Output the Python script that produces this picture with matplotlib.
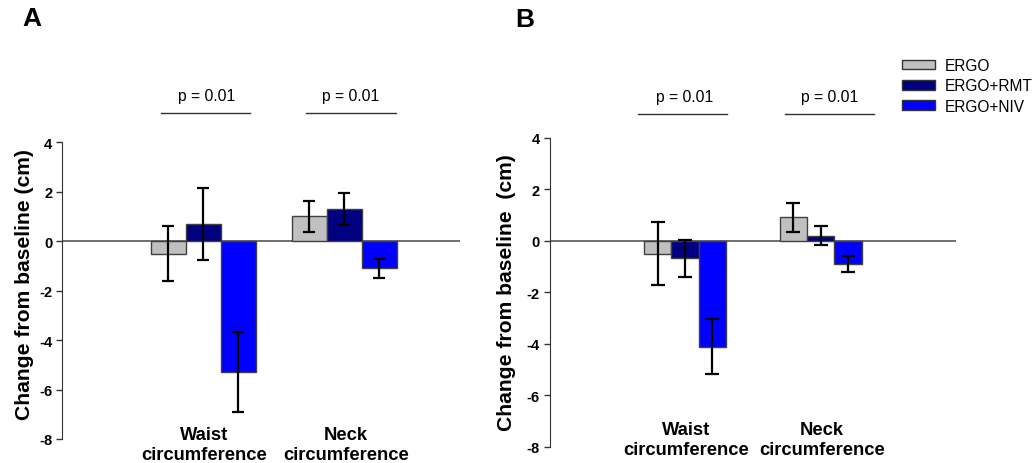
import matplotlib
matplotlib.use("Agg")
import matplotlib.pyplot as plt
from matplotlib.patches import Patch
from matplotlib.transforms import blended_transform_factory
import numpy as np

plt.rcParams['font.family'] = ['Liberation Sans', 'DejaVu Sans']

# data
categories = ["Waist\ncircumference", "Neck\ncircumference"]
groups = ["ERGO", "ERGO+RMT", "ERGO+NIV"]
colors = ["#c0c0c0", "#000080", "#0000ff"]

# panel A
a_means = [[-0.5, 1.0], [0.7, 1.3], [-5.3, -1.1]]
a_errs = [[1.12, 0.61], [1.45, 0.64], [1.62, 0.37]]
# panel B
b_means = [[-0.5, 0.91], [-0.69, 0.2], [-4.11, -0.9]]
b_errs = [[1.21, 0.57], [0.73, 0.36], [1.05, 0.32]]

p_labels = ["p = 0.01", "p = 0.01"]
yticks = [-8, -6, -4, -2, 0, 2, 4]

W, H = 1035, 464
fig = plt.figure(figsize=(W / 100, H / 100), dpi=100)


def fy(px):
    return 1 - px / H


def draw_panel(rect, means, errs, width, xmax, cap, cat_y, p_span, p_text_x, p_line_y, p_text_y):
    ax = fig.add_axes(rect)
    x = np.arange(len(categories))
    for i, (m, e, c) in enumerate(zip(means, errs, colors)):
        ax.bar(x + (i - 1) * width, m, width, color=c, edgecolor="#404040",
               linewidth=1, zorder=2)
        ax.errorbar(x + (i - 1) * width, m, yerr=e, fmt="none", ecolor="black",
                    elinewidth=1.6, capsize=cap, capthick=1.6, zorder=3)
    ax.axhline(0, color="#555555", lw=1.2, zorder=1)
    ax.set_xlim(-1, xmax)
    ax.set_ylim(-8, 4)
    ax.set_yticks(yticks)
    ax.set_yticklabels([str(t) for t in yticks], fontsize=10.5, fontweight="bold")
    ax.set_xticks([])
    for s in ["top", "right", "bottom"]:
        ax.spines[s].set_visible(False)
    ax.spines["left"].set_color("#333333")
    ax.tick_params(axis="y", direction="out", length=4, width=1, color="#333333", pad=3)
    ax.patch.set_alpha(0)

    tr = blended_transform_factory(ax.transData, fig.transFigure)
    for xi, lab in zip(x, categories):
        ax.text(xi + 0.01, cat_y, lab, transform=tr, ha="center", va="top",
                fontsize=13.2, fontweight="bold", linespacing=1.22)
    for (x0, x1), tx, lab in zip(p_span, p_text_x, p_labels):
        ax.plot([x0, x1], [p_line_y, p_line_y], transform=tr, color="#333333",
                lw=1, clip_on=False)
        ax.text(tx, p_text_y, lab, transform=tr, ha="center", va="center", fontsize=11.3)
    return ax


ax_a = draw_panel([62 / W, fy(440), (460 - 62) / W, (440 - 143.3) / H],
                  a_means, a_errs, 0.248, 1.82, 4,
                  fy(427.5), [(-0.30, 0.33), (0.73, 1.365)], [0.025, 1.046],
                  fy(113.7), fy(96))
ax_b = draw_panel([549.5 / W, fy(447.7), (956.2 - 549.5) / W, (447.7 - 138.7) / H],
                  b_means, b_errs, 0.202, 2.0, 5,
                  fy(422.5), [(-0.35, 0.308), (0.735, 1.393)], [0.0, 1.063],
                  fy(114.7), fy(97.3))

fig.text(25 / W, fy(284.5), "Change from baseline (cm)", rotation=90,
         ha="center", va="center", fontsize=15.2, fontweight="bold")
fig.text(507 / W, fy(293), "Change from baseline  (cm)", rotation=90,
         ha="center", va="center", fontsize=15.2, fontweight="bold")

fig.text(32 / W, fy(19.5), "A", ha="center", va="center", fontsize=19, fontweight="bold")
fig.text(525 / W, fy(20), "B", ha="center", va="center", fontsize=19, fontweight="bold")

handles = [Patch(facecolor=c, edgecolor="#333333", linewidth=1) for c in colors]
fig.legend(handles, groups, loc="upper left", bbox_to_anchor=(902 / W, fy(59)),
           frameon=False, fontsize=11.2, handlelength=2.15, handleheight=0.6,
           handletextpad=0.6, labelspacing=0.35, borderpad=0, borderaxespad=0)

fig.savefig("out.png", dpi=100)
